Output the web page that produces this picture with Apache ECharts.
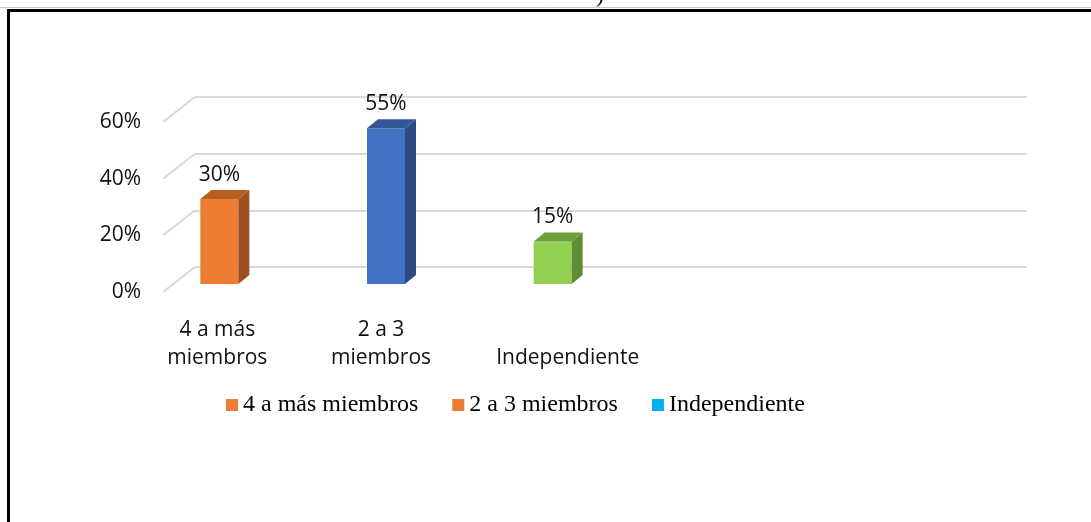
<!DOCTYPE html>
<html>
<head>
<meta charset="utf-8">
<script src="https://cdn.jsdelivr.net/npm/echarts@6/dist/echarts.min.js"></script>
<style>
    html, body { margin: 0; padding: 0; background: #fff; }
    #main { width: 1091px; height: 522px; }
</style>
</head>
<body>
<div id="main"></div>
<script>
// data
var categories = ['4 a más miembros', '2 a 3 miembros', 'Independiente'];
var values = [0.30, 0.55, 0.15];
var yTicks = [0, 0.2, 0.4, 0.6];
// front / side / top colour of each box
var frontColors = ['#ED7D31', '#4472C4', '#92D050'];
var sideColors = ['#9E5120', '#2D4A82', '#5F8C33'];
var topColors = ['#B65E22', '#34579A', '#6C9E3B'];
// the legend swatches do not match the bars in the original
var legendColors = ['#ED7D31', '#ED7D31', '#00B0F0'];

var FONT = 'Open Sans';
var DEPTH_X = 11, DEPTH_Y = 9, HALF_W = 19;

function pct(v) {
    return Math.round(v * 100) + '%';
}

function renderBox(params, api) {
    var i = api.value(0);
    var base = api.coord([i, 0]);
    var top = api.coord([i, api.value(1)]);
    var x0 = top[0] - HALF_W, x1 = top[0] + HALF_W;
    return {
        type: 'group',
        children: [
            {
                type: 'rect',
                shape: {x: x0, y: top[1], width: x1 - x0, height: base[1] - top[1]},
                style: {fill: frontColors[i]}
            },
            {
                type: 'polygon',
                shape: {points: [[x1, top[1]], [x1 + DEPTH_X, top[1] - DEPTH_Y], [x1 + DEPTH_X, base[1] - DEPTH_Y], [x1, base[1]]]},
                style: {fill: sideColors[i]}
            },
            {
                type: 'polygon',
                shape: {points: [[x0, top[1]], [x0 + DEPTH_X, top[1] - DEPTH_Y], [x1 + DEPTH_X, top[1] - DEPTH_Y], [x1, top[1]]]},
                style: {fill: topColors[i]}
            },
            {
                type: 'text',
                style: {
                    text: pct(api.value(1)),
                    x: top[0], y: top[1] - 24,
                    align: 'center', verticalAlign: 'middle',
                    font: '21px "' + FONT + '"', fill: '#111'
                }
            }
        ]
    };
}

// left wall: short diagonal from the front labels to the back wall
function renderWall(params, api) {
    var p = api.coord([0, api.value(1)]);
    return {
        type: 'line',
        shape: {x1: p[0], y1: p[1], x2: p[0] + 32, y2: p[1] - 25},
        style: {stroke: '#D9D9D9', lineWidth: 2}
    };
}

var series = [{
    type: 'custom',
    xAxisIndex: 1,
    yAxisIndex: 1,
    silent: true,
    renderItem: renderWall,
    data: yTicks.map(function (v) { return [0, v]; })
}];
categories.forEach(function (c, i) {
    series.push({
        name: c,
        type: 'custom',
        xAxisIndex: 0,
        yAxisIndex: 0,
        color: frontColors[i],
        renderItem: renderBox,
        data: [[i, values[i]]],
        z: 5
    });
});

// small nudges of the category labels, as in the original
var labelRich = {
    c0: {padding: [0, 4, 0, 0]},
    c1: {padding: [0, 10, 0, 0]},
    c2: {padding: [0, 0, 0, 30]}
};

var chart = echarts.init(document.getElementById('main'));
chart.setOption({
    animation: false,
    backgroundColor: '#fff',
    grid: [
        {left: 136, width: 500, top: 114, height: 170},   // bars
        {left: 163, width: 40, top: 122, height: 170},    // front tick labels
        {left: 195, right: 64, top: 97, height: 170}      // back wall
    ],
    xAxis: [
        {
            gridIndex: 0, type: 'category', data: categories,
            axisLine: {show: false}, axisTick: {show: false},
            axisLabel: {
                interval: 0, margin: 88, verticalAlign: 'bottom',
                fontFamily: FONT, fontSize: 21, lineHeight: 28, color: '#111',
                rich: labelRich,
                formatter: function (v, idx) {
                    return v.replace(' miembros', '\nmiembros').split('\n').map(function (line) {
                        return '{c' + idx + '|' + line + '}';
                    }).join('\n');
                }
            }
        },
        {gridIndex: 1, type: 'value', min: 0, max: 1, show: false},
        {gridIndex: 2, type: 'value', min: 0, max: 1, show: false}
    ],
    yAxis: [
        {gridIndex: 0, type: 'value', min: 0, max: 0.6, show: false},
        {
            gridIndex: 1, type: 'value', min: 0, max: 0.6, interval: 0.2,
            axisLine: {show: false}, axisTick: {show: false}, splitLine: {show: false},
            axisLabel: {margin: 22, fontFamily: FONT, fontSize: 21, color: '#111', formatter: pct}
        },
        {
            gridIndex: 2, type: 'value', min: 0, max: 0.6, interval: 0.2,
            axisLine: {show: false}, axisTick: {show: false}, axisLabel: {show: false},
            splitLine: {lineStyle: {color: '#D9D9D9', width: 2}}
        }
    ],
    legend: {
        left: 226, top: 393, padding: 0,
        icon: 'rect', itemWidth: 12, itemHeight: 12, itemGap: 34,
        selectedMode: false,
        textStyle: {fontFamily: 'Liberation Serif', fontSize: 24, color: '#000'},
        data: categories.map(function (c, i) {
            return {name: c, itemStyle: {color: legendColors[i]}};
        })
    },
    graphic: [
        // frame of the figure, cut on the right and bottom
        {type: 'line', shape: {x1: 0, y1: 7.5, x2: 1091, y2: 7.5}, style: {stroke: '#C8C8C8', lineWidth: 1}, silent: true},
        {type: 'line', shape: {x1: 7, y1: 10.5, x2: 1091, y2: 10.5}, style: {stroke: '#000', lineWidth: 3}, silent: true},
        {type: 'line', shape: {x1: 8.5, y1: 9, x2: 8.5, y2: 522}, style: {stroke: '#000', lineWidth: 3}, silent: true},
        {type: 'text', left: 596, top: -16, style: {text: ')', font: '24px "Liberation Serif"', fill: '#000'}, silent: true}
    ],
    series: series
});
</script>
</body>
</html>
